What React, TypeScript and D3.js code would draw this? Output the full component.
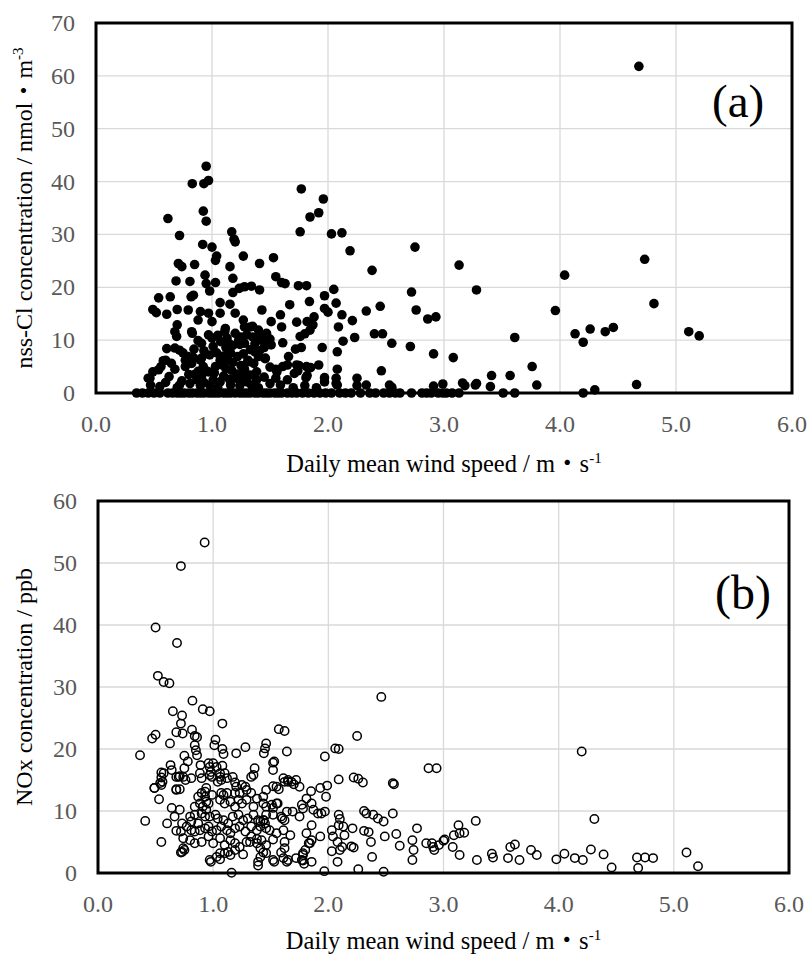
import React from "react";
import * as d3 from "d3";

// ---------- DATA ----------
const xTicks = [0, 1, 2, 3, 4, 5, 6];
const yTicksA = [0, 10, 20, 30, 40, 50, 60, 70];
const yTicksB = [0, 10, 20, 30, 40, 50, 60];

// (a) nss-Cl: wind speed [m/s], concentration [nmol/m3]
const pointsA: [number, number][] = [
  [4.68, 61.8], [0.95, 42.9], [0.83, 39.6], [0.93, 39.6], [0.97, 40.2], [1.77, 38.6], [1.96, 36.7],
  [1.92, 34.1], [1.845, 33.3], [0.925, 34.4], [0.95, 32.5], [0.62, 33.0], [0.72, 29.8], [1.76, 30.5],
  [2.03, 30.1], [2.12, 30.3], [1.17, 30.5], [1.19, 29.1], [1.2, 28.6], [0.92, 28.1], [1.0, 27.6],
  [2.75, 27.6], [2.19, 26.9], [1.04, 25.9], [1.03, 25.1], [1.27, 25.9], [1.53, 25.6], [4.73, 25.3],
  [1.41, 24.5], [0.71, 24.5], [0.74, 23.9], [0.85, 24.3], [3.13, 24.2], [1.155, 23.9], [2.38, 23.2],
  [4.04, 22.3], [0.94, 22.3], [1.18, 21.7], [1.55, 22.0], [1.6, 20.9], [0.69, 21.2], [0.81, 21.1],
  [0.95, 20.7], [1.03, 20.9], [0.98, 19.3], [1.63, 20.7], [1.745, 20.3], [1.815, 20.3], [2.05, 19.6],
  [1.97, 18.4], [2.72, 19.1], [3.28, 19.5], [1.18, 19.0], [1.235, 19.8], [1.28, 20.1], [1.34, 20.2],
  [1.41, 19.5], [0.84, 18.5], [0.82, 18.2], [0.54, 18.0], [0.64, 18.2], [1.07, 17.1], [1.155, 16.8],
  [1.84, 17.3], [2.07, 17.0], [1.67, 16.7], [4.81, 16.9], [0.49, 15.8], [0.52, 15.2], [0.61, 14.9],
  [0.70, 15.8], [0.795, 15.7], [0.9, 15.4], [0.97, 15.1], [1.0, 13.5], [0.88, 13.8], [1.07, 15.1],
  [1.2, 15.1], [1.27, 13.8], [1.43, 15.7], [1.59, 14.8], [2.0, 15.3], [1.97, 16.0], [2.33, 15.5],
  [2.45, 16.4], [2.76, 15.7], [2.86, 14.0], [2.93, 14.4], [3.96, 15.6], [1.88, 14.4], [1.82, 13.5],
  [1.73, 13.4], [2.12, 14.8], [2.09, 12.5], [2.21, 13.7], [1.51, 13.5], [1.6, 12.5], [0.70, 12.9],
  [0.68, 11.6], [0.695, 10.7], [0.825, 11.6], [0.97, 11.0], [1.115, 12.2], [1.11, 11.6], [1.33, 12.5],
  [1.4, 11.9], [1.41, 10.7], [1.47, 11.3], [1.35, 12.6], [1.28, 12.5], [1.845, 11.9], [1.87, 12.9],
  [1.76, 10.7], [1.8, 11.2], [2.4, 11.2], [2.47, 11.2], [4.13, 11.2], [4.26, 12.1], [4.39, 11.6],
  [4.46, 12.4], [5.11, 11.6], [5.2, 10.8], [3.61, 10.5], [4.2, 9.6], [1.23, 10.0], [1.28, 9.4],
  [1.24, 9.2], [1.18, 9.0], [1.075, 9.7], [1.12, 8.6], [1.15, 9.3], [1.61, 9.5], [1.51, 9.1],
  [2.13, 9.8], [2.23, 10.5], [2.55, 9.4], [2.71, 8.8], [1.95, 8.6], [1.72, 8.3], [1.77, 8.6],
  [0.61, 8.4], [0.58, 6.1], [0.72, 8.1], [0.75, 7.6], [0.91, 9.4], [0.845, 8.3], [0.83, 11.3],
  [1.01, 8.8], [0.68, 8.5], [2.91, 7.4], [3.08, 6.7], [2.08, 7.8], [1.66, 6.9], [1.457, 6.5],
  [1.41, 8.0], [1.37, 9.3], [1.35, 10.6], [1.44, 10.4], [0.65, 5.6], [0.795, 6.9], [0.825, 5.6],
  [0.77, 5.0], [0.91, 6.6], [0.925, 5.0], [0.97, 4.0], [1.08, 5.9], [1.14, 6.2], [1.17, 4.3],
  [1.31, 6.2], [1.37, 7.8], [1.46, 6.6], [1.09, 5.3], [1.18, 5.8], [1.31, 5.9], [1.73, 5.3],
  [1.815, 5.0], [1.71, 3.7], [1.81, 2.9], [1.92, 5.3], [2.08, 4.5], [2.46, 4.2], [1.97, 2.1],
  [2.07, 1.8], [2.25, 2.8], [2.33, 1.5], [2.55, 1.1], [2.91, 1.3], [2.99, 1.7], [3.16, 1.9],
  [3.28, 1.8], [3.4, 1.2], [3.8, 1.5], [3.76, 5.0], [3.41, 3.3], [3.57, 3.3], [4.66, 1.6], [4.3, 0.6],
  [1.65, 5.3], [1.61, 5.0], [1.55, 4.5], [1.56, 4.0], [1.385, 4.0], [1.385, 2.5], [1.5, 1.8],
  [1.59, 1.5], [0.49, 4.0], [0.465, 2.8], [0.63, 3.1], [0.74, 2.3], [0.87, 2.5], [0.91, 3.1],
  [1.01, 2.5], [1.07, 2.1], [1.24, 2.5], [1.3, 2.1], [1.2, 2.8], [1.27, 3.1], [1.16, 1.5],
  [0.56, 5.0], [0.54, 4.4], [0.45, 2.8], [0.55, 1.2], [0.81, 1.8], [0.88, 4.1], [0.95, 4.2],
  [0.6, 6.2], [0.77, 6.2], [0.84, 6.7], [0.9, 6.2], [1.07, 6.2], [1.75, 5.2], [1.74, 4.2],
  [1.82, 3.3], [1.85, 4.8], [2.07, 2.8], [1.97, 2.9], [0.47, 1.5], [0.72, 1.5], [0.9, 1.4],
  [0.98, 1.5], [1.24, 1.4], [1.34, 1.5], [1.8, 1.4], [2.08, 1.5], [2.25, 1.4], [2.53, 1.5],
  [3.18, 1.4], [3.27, 1.5],
  [0.88, 9.9], [0.93, 8.0], [0.98, 7.2], [1.04, 7.6], [1.1, 7.0], [1.16, 7.6], [1.22, 6.9],
  [1.27, 7.4], [1.33, 8.2], [1.4, 6.9], [1.45, 8.6], [1.0, 10.4], [1.05, 10.9], [1.13, 10.4],
  [1.2, 11.3], [1.25, 10.6], [1.3, 11.0], [1.38, 9.8], [1.45, 9.6], [1.5, 10.2], [0.85, 3.5],
  [0.93, 2.0], [1.02, 3.8], [1.1, 3.2], [1.15, 2.6], [1.22, 3.6], [1.28, 4.5], [1.33, 3.4],
  [1.45, 3.0], [1.5, 4.9], [1.03, 5.0], [1.12, 4.6], [1.25, 5.2], [1.36, 5.6], [0.8, 3.5],
  [0.68, 4.5], [0.6, 2.0], [0.7, 1.0], [1.05, 1.0], [1.4, 1.0], [1.55, 2.8], [1.65, 2.5],
  [1.7, 1.0], [1.9, 1.0],
];

// (a) days with nss-Cl = 0
const zeroWindA = [
  0.35, 0.40, 0.45, 0.5, 0.55, 0.62, 0.66, 0.7, 0.73, 0.76, 0.8, 0.83, 0.87, 0.9, 0.93, 0.97, 1.0,
  1.03, 1.06, 1.1, 1.13, 1.16, 1.2, 1.24, 1.27, 1.3, 1.33, 1.37, 1.4, 1.44, 1.47, 1.5, 1.54, 1.57,
  1.6, 1.65, 1.69, 1.73, 1.78, 1.83, 1.88, 1.93, 1.98, 2.03, 2.1, 2.15, 2.2, 2.28, 2.36, 2.41, 2.48,
  2.53, 2.58, 2.62, 2.72, 2.81, 2.85, 2.89, 2.95, 2.99, 3.02, 3.07, 3.13, 3.51, 3.61, 4.2,
];

// (b) NOx: wind speed [m/s], concentration [ppb]
const pointsB: [number, number][] = [
  [0.926, 53.3], [0.72, 49.5], [0.50, 39.6], [0.686, 37.1], [0.52, 31.8], [0.57, 30.8], [0.62, 30.6],
  [0.82, 27.8], [0.91, 26.4], [0.97, 26.1], [0.65, 26.1], [0.73, 25.4], [0.72, 24.1], [1.08, 24.1],
  [0.68, 22.7], [0.735, 22.5], [0.816, 23.1], [0.84, 22.1], [0.86, 21.9], [0.5, 22.3], [0.47, 21.7],
  [0.625, 20.9], [1.02, 21.5], [1.01, 20.6], [0.84, 20.6], [0.85, 19.8], [0.86, 19.0], [1.08, 20.0],
  [1.09, 19.2], [1.2, 19.3], [1.28, 20.3], [0.365, 19.0], [0.75, 18.9], [0.78, 18.0], [0.63, 17.4],
  [0.55, 16.2], [0.55, 15.4], [0.56, 14.7], [0.68, 15.5], [0.70, 15.5], [0.75, 16.9], [0.885, 16.1],
  [1.0, 17.7], [0.97, 17.1], [0.98, 16.3], [0.99, 15.5], [1.06, 16.1], [1.08, 17.3], [0.81, 15.3],
  [0.49, 13.7], [0.53, 11.9], [0.68, 13.5], [0.71, 13.5], [1.04, 14.7], [1.09, 12.6], [0.64, 10.5],
  [0.71, 10.2], [0.665, 9.1], [0.6, 8.0], [0.41, 8.4], [0.55, 5.0], [0.68, 6.8], [0.72, 6.7],
  [0.74, 5.6], [0.74, 4.0], [0.72, 3.3], [0.75, 3.7], [0.98, 1.8], [1.06, 2.2], [1.16, 0.05],
  [1.1, 3.2], [1.15, 2.9], [1.26, 3.0], [1.32, 5.0], [1.39, 1.8], [1.39, 1.2], [1.53, 1.8],
  [1.59, 3.3], [1.61, 2.4], [1.64, 1.8], [1.72, 2.4], [1.78, 3.2], [1.77, 2.1], [1.79, 1.5],
  [1.855, 1.8], [1.81, 6.4], [1.855, 5.3], [1.84, 4.8], [1.93, 5.9], [1.965, 0.3], [2.26, 0.6],
  [2.48, 0.2], [1.57, 23.2], [1.62, 22.9], [1.64, 19.6], [1.46, 20.9], [1.45, 20.1], [1.44, 19.3],
  [1.53, 18.0], [1.52, 16.6], [1.61, 15.3], [1.65, 14.7], [1.7, 14.3], [1.72, 15.0], [1.75, 13.9],
  [1.52, 14.0], [1.46, 13.4], [1.435, 12.3], [1.52, 10.5], [1.56, 11.2], [1.6, 8.8], [1.67, 6.1],
  [1.52, 5.4], [1.41, 8.3], [1.44, 8.5], [1.46, 7.2], [1.41, 4.0], [1.435, 3.3], [1.38, 5.5],
  [1.69, 9.9], [1.75, 9.1], [1.77, 11.0], [1.78, 10.4], [1.855, 11.2], [1.85, 13.2], [1.81, 12.0],
  [1.87, 10.2], [1.91, 9.6], [1.94, 9.6], [1.97, 9.9], [1.93, 13.7], [1.98, 12.3], [1.99, 14.1],
  [1.97, 18.8], [2.06, 20.1], [2.09, 20.0], [2.25, 22.1], [2.09, 15.1], [2.22, 15.4], [2.26, 15.2],
  [2.3, 14.6], [2.46, 28.4], [2.56, 14.5], [2.57, 14.3], [2.09, 9.4], [2.1, 8.7], [2.03, 6.9],
  [2.04, 5.9], [2.09, 7.7], [2.13, 7.5], [2.21, 7.2], [2.14, 6.1], [2.08, 5.0], [2.12, 4.2],
  [2.1, 3.7], [2.03, 3.5], [2.08, 1.8], [2.2, 4.3], [2.22, 4.1], [2.31, 10.0], [2.33, 9.6],
  [2.37, 5.0], [2.31, 6.8], [2.35, 6.6], [2.38, 2.6], [2.39, 9.4], [2.43, 8.8], [2.48, 8.3],
  [2.49, 5.9], [2.56, 9.6], [2.59, 6.3], [2.62, 4.4], [2.73, 5.3], [2.74, 3.7], [2.73, 2.1],
  [2.77, 7.2], [2.87, 16.9], [2.94, 16.9], [2.85, 4.8], [2.9, 4.8], [2.91, 4.2], [2.92, 3.7],
  [2.96, 4.5], [3.0, 5.2], [3.08, 4.2], [3.09, 6.1], [3.14, 6.4], [3.14, 2.9], [3.13, 7.7],
  [3.18, 6.5], [3.01, 5.4], [3.28, 8.4], [3.29, 2.1], [3.42, 3.1], [3.43, 2.5], [3.56, 2.4],
  [3.58, 4.2], [3.62, 4.6], [3.66, 2.1], [3.76, 3.7], [3.81, 2.9], [3.98, 2.2], [4.05, 3.1],
  [4.14, 2.4], [4.21, 2.1], [4.28, 3.8], [4.31, 8.7], [4.2, 19.6], [4.39, 3.0], [4.46, 0.9],
  [4.68, 2.5], [4.75, 2.5], [4.82, 2.4], [4.69, 0.8], [5.11, 3.3], [5.21, 1.1], [1.62, 8.5],
  [1.62, 5.0], [1.62, 4.0], [1.65, 2.1], [1.8, 3.7], [1.78, 2.9], [1.78, 2.0], [1.83, 4.8],
  [1.855, 7.7], [0.55, 14.2], [0.68, 13.4], [0.94, 13.7], [0.99, 12.6], [1.07, 12.9], [1.12, 12.9],
  [1.19, 12.9], [1.23, 12.9], [1.29, 13.4], [1.33, 12.9], [1.55, 13.9], [1.57, 13.5], [1.65, 15.0],
  [0.84, 10.7], [0.885, 11.2], [0.91, 10.7], [0.93, 12.3], [0.94, 10.2], [0.96, 11.2], [1.06, 11.8],
  [1.1, 11.2], [1.15, 11.5], [1.19, 10.7], [1.22, 11.8], [1.25, 11.2], [1.29, 11.8], [1.35, 10.7],
  [1.38, 12.0], [1.435, 11.2], [1.46, 10.7], [1.51, 11.0], [1.55, 11.2], [0.8, 9.1], [0.81, 8.3],
  [0.84, 9.4], [0.87, 8.0], [0.9, 9.6], [0.93, 9.1], [0.97, 9.1], [1.02, 9.4], [1.04, 8.8],
  [1.09, 8.5], [1.13, 8.0], [1.17, 9.1], [1.22, 9.4], [1.26, 8.5], [1.3, 8.8], [1.35, 9.4],
  [1.39, 8.5], [1.435, 8.5], [1.46, 9.4], [1.52, 9.4], [1.59, 9.1], [1.64, 9.9], [0.73, 8.0],
  [0.77, 7.5], [0.81, 6.9], [0.84, 6.7], [0.885, 6.9], [0.93, 7.2], [0.96, 7.5], [0.99, 6.7],
  [1.03, 6.9], [1.07, 7.5], [1.12, 6.9], [1.15, 6.4], [1.19, 7.2], [1.23, 7.5], [1.28, 6.7],
  [1.33, 7.5], [1.38, 6.9], [1.41, 7.5], [1.45, 8.0], [1.49, 6.9], [1.55, 6.4], [1.61, 6.9],
  [0.8, 5.3], [0.84, 4.8], [0.9, 5.0], [0.96, 5.9], [1.0, 4.8], [1.06, 5.6], [1.1, 4.5],
  [1.15, 5.3], [1.19, 4.8], [1.23, 4.2], [1.29, 5.0], [1.33, 5.9], [1.38, 4.8], [1.42, 5.3],
  [1.46, 4.5], [0.73, 3.4], [0.97, 2.1], [1.03, 2.6], [1.06, 3.2], [1.13, 3.4], [1.19, 3.7],
  [1.41, 2.6], [1.46, 3.2], [1.52, 2.1], [0.87, 12.3], [0.9, 12.9], [0.93, 13.1], [0.94, 11.5],
  [0.89, 17.4], [0.96, 17.7], [1.03, 17.1], [1.1, 16.1], [1.12, 15.3], [1.17, 15.5], [1.19, 14.6],
  [1.2, 13.9], [1.25, 14.2], [1.28, 13.9], [1.33, 15.5], [1.35, 15.8], [1.36, 16.9], [1.52, 17.8],
  [1.62, 14.7], [1.68, 14.7], [0.54, 14.5], [0.57, 16.1], [0.64, 16.6], [0.74, 15.5], [0.76, 15.0],
  [0.9, 15.3], [0.97, 15.8], [1.06, 15.5], [1.07, 15.0], [0.71, 15.6], [0.49, 13.7],
];

// ---------- LAYOUT ----------
const W = 808;
const H = 956;
const tickColor = "#595959";
const gridColor = "#d9d9d9";
const serif = "'Liberation Serif', 'Times New Roman', 'Noto Sans CJK JP', serif";

interface PanelProps {
  x: d3.ScaleLinear<number, number>;
  y: d3.ScaleLinear<number, number>;
  yTicks: number[];
  children?: React.ReactNode;
}

function Panel({ x, y, yTicks, children }: PanelProps) {
  const [x0, x1] = x.range();
  const [y0, y1] = y.range();
  return (
    <g>
      {xTicks.slice(1, -1).map((t) => (
        <line key={"vx" + t} x1={x(t)} x2={x(t)} y1={y0} y2={y1} stroke={gridColor} strokeWidth={1.3} />
      ))}
      {yTicks.slice(1, -1).map((t) => (
        <line key={"hy" + t} x1={x0} x2={x1} y1={y(t)} y2={y(t)} stroke={gridColor} strokeWidth={1.3} />
      ))}
      <rect x={x0} y={y1} width={x1 - x0} height={y0 - y1} fill="none" stroke="#000" strokeWidth={3} />
      {xTicks.map((t) => (
        <text key={"tx" + t} x={x(t)} y={y0 + 39} textAnchor="middle" fontFamily={serif} fontSize={24} fill={tickColor}>
          {d3.format(".1f")(t)}
        </text>
      ))}
      {yTicks.map((t) => (
        <text key={"ty" + t} x={x0 - 21} y={y(t) + 8} textAnchor="end" fontFamily={serif} fontSize={24} fill={tickColor}>
          {t}
        </text>
      ))}
      {children}
    </g>
  );
}

export default function App() {
  const xA = d3.scaleLinear().domain([0, 6]).range([96, 792]);
  const yA = d3.scaleLinear().domain([0, 70]).range([393, 23]);
  const xB = d3.scaleLinear().domain([0, 6]).range([98, 789]);
  const yB = d3.scaleLinear().domain([0, 60]).range([873, 501]);

  const cyA = (yA(0) + yA(70)) / 2;
  const cyB = (yB(0) + yB(60)) / 2;

  return (
    <svg
      width={W}
      height={H}
      viewBox={`0 0 ${W} ${H}`}
      style={{ position: "absolute", left: 0, top: 0, background: "#fff" }}
    >
      <rect x={0} y={0} width={W} height={H} fill="#fff" />

      <Panel x={xA} y={yA} yTicks={yTicksA}>
        {zeroWindA.map((w, i) => (
          <circle key={"za" + i} cx={xA(w)} cy={yA(0)} r={4.8} fill="#000" />
        ))}
        {pointsA.map(([w, c], i) => (
          <circle key={"pa" + i} cx={xA(w)} cy={yA(c)} r={4.8} fill="#000" />
        ))}
        <text x={712} y={117} fontFamily={serif} fontSize={47} fill="#000">(a)</text>
      </Panel>
      <text x={(xA(0) + xA(6)) / 2} y={472} textAnchor="middle" fontFamily={serif} fontSize={24.5} fill="#000">
        Daily mean wind speed / m・s<tspan dy={-9} fontSize={15}>-1</tspan>
      </text>
      <text
        transform={`translate(32, ${cyA}) rotate(-90)`}
        textAnchor="middle"
        fontFamily={serif}
        fontSize={24}
        fill="#000"
      >
        nss-Cl concentration / nmol・m<tspan dy={-9} fontSize={15}>-3</tspan>
      </text>

      <Panel x={xB} y={yB} yTicks={yTicksB}>
        {pointsB.map(([w, c], i) => (
          <circle key={"pb" + i} cx={xB(w)} cy={yB(c)} r={4.2} fill="none" stroke="#000" strokeWidth={1.5} />
        ))}
        <text x={715} y={609} fontFamily={serif} fontSize={48} fill="#000">(b)</text>
      </Panel>
      <text x={(xB(0) + xB(6)) / 2} y={949} textAnchor="middle" fontFamily={serif} fontSize={24.5} fill="#000">
        Daily mean wind speed / m・s<tspan dy={-9} fontSize={15}>-1</tspan>
      </text>
      <text
        transform={`translate(32, ${cyB}) rotate(-90)`}
        textAnchor="middle"
        fontFamily={serif}
        fontSize={24}
        fill="#000"
      >
        NOx concentration / ppb
      </text>
    </svg>
  );
}
